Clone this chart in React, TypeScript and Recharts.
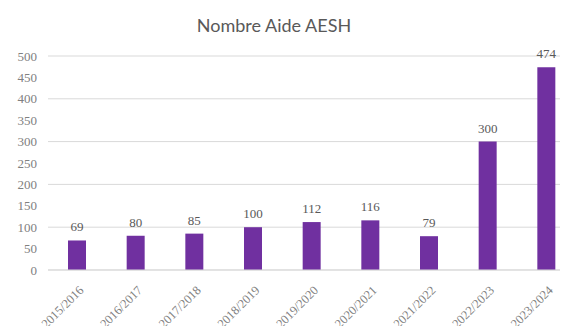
import React from 'react';
import { BarChart, Bar, XAxis, YAxis, CartesianGrid, LabelList } from 'recharts';

const years = [
  '2015/2016', '2016/2017', '2017/2018', '2018/2019', '2019/2020',
  '2020/2021', '2021/2022', '2022/2023', '2023/2024',
];
const aesh = [69, 80, 85, 100, 112, 116, 79, 300, 474];
const yTicks = [0, 50, 100, 150, 200, 250, 300, 350, 400, 450, 500];

const data = years.map((year, i) => ({ year, aesh: aesh[i] }));

const tickFont = '"Liberation Serif", serif';

const XTick = (props: any) => {
  const { x, y, payload } = props;
  return (
    <g transform={`translate(${x + 7},${y + 13})`}>
      <text
        textAnchor="end"
        transform="rotate(-45)"
        fill="#808080"
        fontSize={12.5}
        fontFamily={tickFont}
      >
        {payload.value}
      </text>
    </g>
  );
};

const App: React.FC = () => {
  return (
    <div style={{ position: 'relative', margin: -8, width: 568, height: 334, overflow: 'hidden', background: '#fff' }}>
      <div
        style={{
          position: 'absolute',
          top: 14,
          left: 0,
          width: 548,
          textAlign: 'center',
          fontFamily: 'Lato, sans-serif',
          fontSize: 18,
          color: '#595959',
        }}
      >
        Nombre Aide AESH
      </div>
      <BarChart
        width={576}
        height={334}
        data={data}
        margin={{ top: 56, right: 0, left: 0, bottom: 0 }}
      >
        <CartesianGrid vertical={false} stroke="#d9d9d9" />
        <XAxis
          dataKey="year"
          height={64}
          tickLine={false}
          axisLine={{ stroke: '#d9d9d9' }}
          interval={0}
          tick={<XTick />}
        />
        <YAxis
          width={48}
          domain={[0, 500]}
          ticks={yTicks}
          tickLine={false}
          axisLine={false}
          tickMargin={5}
          tick={{ fill: '#808080', fontSize: 13, fontFamily: tickFont }}
        />
        <Bar dataKey="aesh" fill="#7030a0" barSize={18} isAnimationActive={false}>
          <LabelList
            dataKey="aesh"
            position="top"
            offset={9}
            fill="#595959"
            fontSize={13}
            fontFamily={tickFont}
          />
        </Bar>
      </BarChart>
    </div>
  );
};

export default App;
